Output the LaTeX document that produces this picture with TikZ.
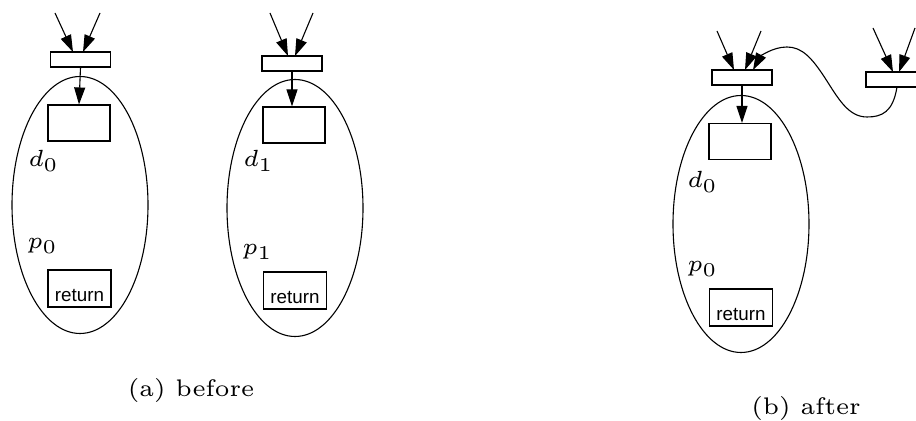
\documentclass[tikz,border=0pt]{standalone}
\usepackage{fontspec}
\usepackage{graphicx}
\newfontfamily\helv{Liberation Sans}
\usetikzlibrary{arrows.meta,shapes.geometric}
\newcommand{\mlab}[1]{\scalebox{1.95}{\fontsize{6}{7}\selectfont $#1$}}
\begin{document}
\begin{tikzpicture}[x=0.5pt,y=-0.5pt,
  line width=0.55pt,
  arr/.style={-{Triangle[length=8.5pt,width=5.5pt]}},
  hdr/.style={draw,rectangle,inner sep=0pt,minimum width=30pt,minimum height=7.5pt},
  inbox/.style={draw,rectangle,inner sep=0pt,minimum width=31pt,minimum height=18pt},
  retbox/.style={draw,rectangle,inner sep=0pt,minimum width=31.5pt,text height=16pt,text depth=2.5pt,font=\helv\fontsize{9.4}{11}\selectfont},
  blob/.style={draw,ellipse,inner sep=0pt,minimum width=68pt,minimum height=128.5pt},
  lab/.style={anchor=base west,inner sep=0pt},
  captxt/.style={anchor=base,inner sep=0pt}
]
\clip (0,0) rectangle (916,421);

% ---------- (a) left ----------
\node[blob] (e1) at (80,205) {};
\node[hdr] (t1) at (80.5,59.5) {};
\node[inbox] (b1) at (79,123) {};
\node[retbox] (r1) at (79.5,288.5) {return};
\node[lab] (d1) at (28,167) {\mlab{d_0}};
\node[lab] (p1) at (27,249) {\mlab{p_0}};
\coordinate (s1a) at (55,13);
\coordinate (s1b) at (100,13);
\coordinate (i1a) at (73,52);
\coordinate (i1b) at (83,52);
\draw[arr] (s1a) -- (i1a);
\draw[arr] (s1b) -- (i1b);
\draw[arr] (t1.south) -- (b1.north);

% ---------- (a) right ----------
\node[blob] (e2) at (295,208) {};
\node[hdr] (t2) at (292,63.5) {};
\node[inbox] (b2) at (294,125) {};
\node[retbox] (r2) at (295,290.5) {return};
\node[lab] (d2) at (243,167) {\mlab{d_1}};
\node[lab] (p2) at (242,255) {\mlab{p_1}};
\coordinate (s2a) at (270,13);
\coordinate (s2b) at (313,13);
\coordinate (i2a) at (288,56);
\coordinate (i2b) at (295,56);
\draw[arr] (s2a) -- (i2a);
\draw[arr] (s2b) -- (i2b);
\draw[arr] (t2.south) -- (b2.north -| t2.south);

% ---------- (b) ----------
\node[blob] (e3) at (741,224) {};
\node[hdr] (t3) at (742,77.5) {};
\node[inbox] (b3) at (740,141.5) {};
\node[retbox] (r3) at (741,307.5) {return};
\node[lab] (d3) at (687,188) {\mlab{d_0}};
\node[lab] (p3) at (687,272) {\mlab{p_0}};
\coordinate (s3a) at (717,31);
\coordinate (s3b) at (761,31);
\coordinate (i3a) at (734,70);
\coordinate (i3b) at (745,70);
\draw[arr] (s3a) -- (i3a);
\draw[arr] (s3b) -- (i3b);
\draw[arr] (t3.south) -- (b3.north -| t3.south);

\node[hdr] (t4) at (896,79.5) {};
\coordinate (s4a) at (873,28);
\coordinate (s4b) at (915,28);
\coordinate (i4a) at (893,72);
\coordinate (i4b) at (899,72);
\draw[arr] (s4a) -- (i4a);
\draw[arr] (s4b) -- (i4b);

\coordinate (cvs) at (897,87);
\coordinate (cve) at (753,70);
\draw[arr] (cvs) .. controls (893,112) and (882,117) .. (867,117)
  .. controls (848,117) and (838,98) .. (825,78)
  .. controls (812,58) and (802,47) .. (787,47)
  .. controls (772,47) and (760,57) .. (cve);

% ---------- captions ----------
\node[captxt] (capa) at (191,397) {\scalebox{2}{\fontsize{6}{7}\selectfont (a) before}};
\node[captxt] (capb) at (806,415) {\scalebox{2}{\fontsize{6}{7}\selectfont (b) after}};
\end{tikzpicture}
\end{document}
